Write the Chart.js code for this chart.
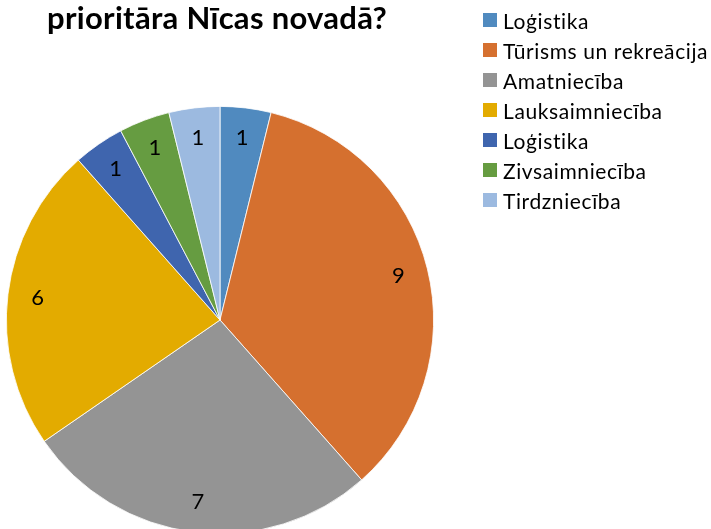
<!DOCTYPE html>
<html>
<head>
<meta charset="utf-8">
<script src="https://cdn.jsdelivr.net/npm/chart.js@4"></script>
<style>
  html, body { margin: 0; padding: 0; background: #fff; width: 711px; height: 529px; overflow: hidden; }
  #wrap { position: relative; width: 711px; height: 529px; overflow: hidden; }
  #c { position: absolute; left: 0; top: 0; }
  #title { position: absolute; left: 47px; top: 2px; font-family: Lato, "Open Sans", sans-serif; font-weight: bold; font-size: 31px; line-height: 31px; letter-spacing: 0.3px; color: #000; white-space: nowrap; }
  #legend { position: absolute; left: 483px; top: 5px; font-family: Lato, "Open Sans", sans-serif; font-size: 21px; letter-spacing: 0.6px; color: #000; }
  .item { height: 30px; display: flex; align-items: center; white-space: nowrap; }
  .box { width: 14px; height: 14px; margin-right: 6px; flex: none; }
</style>
</head>
<body>
<div id="wrap">
  <canvas id="c" width="711" height="560"></canvas>
  <div id="title"></div>
  <div id="legend"></div>
</div>
<script>
const titleText = "prioritāra Nīcas novadā?";
const categories = ["Loģistika", "Tūrisms un rekreācija", "Amatniecība", "Lauksaimniecība", "Loģistika", "Zivsaimniecība", "Tirdzniecība"];
const values = [1, 9, 7, 6, 1, 1, 1];
const colors = ["#508ABF", "#D5702F", "#949494", "#E3AB00", "#3F65AE", "#669C41", "#9CBAE0"];

document.getElementById('title').textContent = titleText;
const leg = document.getElementById('legend');
categories.forEach((c, i) => {
  const d = document.createElement('div');
  d.className = 'item';
  const b = document.createElement('span');
  b.className = 'box';
  b.style.background = colors[i];
  const t = document.createElement('span');
  t.textContent = c;
  d.appendChild(b); d.appendChild(t);
  leg.appendChild(d);
});

const valueLabels = {
  id: 'valueLabels',
  afterDatasetsDraw(chart) {
    const ctx = chart.ctx;
    const meta = chart.getDatasetMeta(0);
    ctx.save();
    ctx.font = '22px Lato, "Open Sans", sans-serif';
    ctx.fillStyle = '#000';
    ctx.textAlign = 'center';
    ctx.textBaseline = 'middle';
    meta.data.forEach((arc, i) => {
      const p = arc.getProps(['x', 'y', 'startAngle', 'endAngle', 'outerRadius'], true);
      const mid = (p.startAngle + p.endAngle) / 2;
      const r = p.outerRadius * 0.86;
      ctx.fillText(String(values[i]), p.x + Math.cos(mid) * r, p.y + Math.sin(mid) * r);
    });
    ctx.restore();
  }
};

new Chart(document.getElementById('c'), {
  type: 'pie',
  data: {
    labels: categories,
    datasets: [{
      data: values,
      backgroundColor: colors,
      borderColor: '#ffffff',
      borderWidth: 0.8
    }]
  },
  options: {
    responsive: false,
    animation: false,
    devicePixelRatio: 1,
    layout: { padding: { left: 6, right: 277, top: 106, bottom: 26 } },
    plugins: {
      legend: { display: false },
      title: { display: false },
      tooltip: { enabled: false }
    }
  },
  plugins: [valueLabels]
});
</script>
</body>
</html>
